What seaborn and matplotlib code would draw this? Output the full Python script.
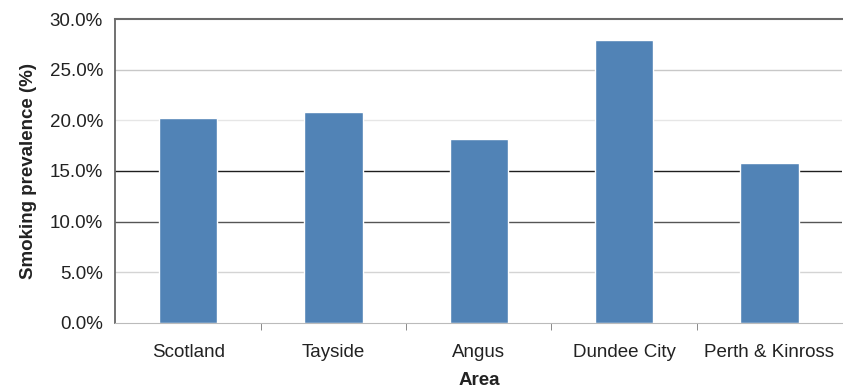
import matplotlib
matplotlib.use("Agg")
import matplotlib.pyplot as plt
import matplotlib.ticker as mticker
import seaborn as sns
import pandas as pd

areas = ["Scotland", "Tayside", "Angus", "Dundee City", "Perth & Kinross"]
prevalence = [20.2, 20.8, 18.2, 27.9, 15.8]

df = pd.DataFrame({"Area": areas, "Prevalence": prevalence})

sns.set_style("white")
plt.rcParams["font.family"] = ["Liberation Sans", "DejaVu Sans"]

fig = plt.figure(figsize=(8.43, 3.88), dpi=100)
ax = fig.add_axes([0.137, 0.168, 0.862, 0.783])

# scanned look: gridlines of uneven darkness
grid_colors = {5: "#d4d4d4", 10: "#555555", 15: "#1e1e1e", 20: "#e6e6e6", 25: "#c8c8c8"}
for y, c in grid_colors.items():
    ax.axhline(y, color=c, lw=1.0, zorder=0)

sns.barplot(data=df, x="Area", y="Prevalence", color="#5183b6", width=0.4,
            saturation=1, ax=ax, zorder=2)

ax.set_ylim(0, 30)
ax.set_xlim(-0.5, 4.5)
ax.yaxis.set_major_locator(mticker.MultipleLocator(5))
ax.yaxis.set_major_formatter(mticker.FuncFormatter(lambda v, p: f"{v:.1f}%"))
ax.set_xticks(range(len(areas)))
ax.set_xticklabels(areas)
ax.set_xticks([0.5, 1.5, 2.5, 3.5], minor=True)
ax.tick_params(axis="x", which="major", length=0, pad=15, labelsize=13.5, colors="#222222")
ax.tick_params(axis="x", which="minor", length=5, color="#777777", direction="out")
ax.tick_params(axis="y", which="major", length=4, color="#aaaaaa", labelsize=13.5,
               labelcolor="#222222", pad=5)
ax.tick_params(axis="x", which="both", bottom=True)

for side in ["left", "top", "right", "bottom"]:
    ax.spines[side].set_visible(True)
ax.spines["left"].set_color("#666666")
ax.spines["left"].set_linewidth(1.3)
ax.spines["top"].set_color("#6a6a6a")
ax.spines["top"].set_linewidth(1.5)
ax.spines["bottom"].set_color("#bbbbbb")
ax.spines["right"].set_visible(False)

ax.set_xlabel("Area", fontsize=13.5, fontweight="bold", color="#222222", labelpad=8)
ax.set_ylabel("Smoking prevalence (%)", fontsize=13.5, fontweight="bold", color="#222222",
              labelpad=9)

fig.savefig("out.png", dpi=100)
